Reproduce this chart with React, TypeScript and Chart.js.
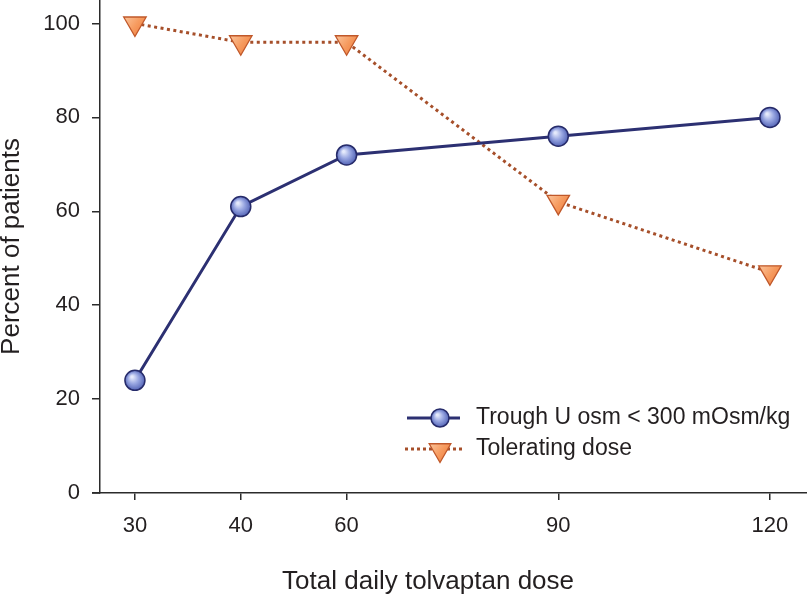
import React, { useEffect, useRef } from "react";
import { Chart, registerables } from "chart.js";

Chart.register(...registerables);

// ---- data ----
const doseLabels = ["30", "40", "60", "90", "120"];
// ordinal slot each dose occupies on the (non-proportional) axis
const doseSlots = [0, 1, 2, 4, 6];
const troughValues = [24, 61, 72, 76, 80];
const toleratingValues = [100, 96, 96, 62, 47];
const yTickValues = [0, 20, 40, 60, 80, 100];
const seriesNames = ["Trough U osm < 300 mOsm/kg", "Tolerating dose"];
const xTitle = "Total daily tolvaptan dose";
const yTitle = "Percent of patients";

const FONT = "'Liberation Sans', Arial, Helvetica, sans-serif";
const TEXT = "#231f20";
const AXIS = "#2b2b2b";
const NAVY = "#2c3072";
const BLUE_BORDER = "#262b6a";
const DOT = "#a64f2a";
const ORANGE_BORDER = "#c0582a";

function blueGradient(ctx: CanvasRenderingContext2D, x: number, y: number, r: number) {
  const g = ctx.createRadialGradient(x - r * 0.3, y - r * 0.35, r * 0.1, x, y, r * 1.05);
  g.addColorStop(0, "#e4e9fb");
  g.addColorStop(0.45, "#9aa8e2");
  g.addColorStop(1, "#4f60b4");
  return g;
}
function orangeGradient(ctx: CanvasRenderingContext2D, x: number, y: number, r: number) {
  const g = ctx.createLinearGradient(x - r, y - r * 0.5, x + r, y + r);
  g.addColorStop(0, "#fcc9a2");
  g.addColorStop(0.5, "#f69a5e");
  g.addColorStop(1, "#ec7436");
  return g;
}

function pointPixel(c: any) {
  const chart = c.chart;
  const sx = chart.scales?.x;
  const sy = chart.scales?.y;
  if (!sx || !sy || c.type !== "data" || !c.parsed) return null;
  const x = sx.getPixelForValue(c.parsed.x);
  const y = sy.getPixelForValue(c.parsed.y);
  if (!Number.isFinite(x) || !Number.isFinite(y)) return null;
  return { x, y };
}

const legendPlugin = {
  id: "customLegend",
  afterDraw(chart: any) {
    const { ctx, chartArea } = chart;
    ctx.save();
    // small overhang of x axis to the left of the y axis
    ctx.strokeStyle = AXIS;
    ctx.lineWidth = 1.5;
    ctx.beginPath();
    ctx.moveTo(chartArea.left - 8, chartArea.bottom);
    ctx.lineTo(chartArea.left, chartArea.bottom);
    ctx.stroke();

    // x-axis title (sits slightly left of the plot-area centre in the original)
    ctx.fillStyle = TEXT;
    ctx.font = `26px ${FONT}`;
    ctx.textAlign = "center";
    ctx.textBaseline = "middle";
    ctx.fillText(
      xTitle,
      chartArea.left + (chartArea.right - chartArea.left) * 0.464,
      chartArea.bottom + 89
    );

    const lx = chartArea.right - 400;
    const rows = [chartArea.bottom - 75, chartArea.bottom - 44];
    const mx = lx + 33;
    // row 1
    ctx.strokeStyle = NAVY;
    ctx.lineWidth = 3;
    ctx.setLineDash([]);
    ctx.beginPath();
    ctx.moveTo(lx, rows[0]);
    ctx.lineTo(lx + 53, rows[0]);
    ctx.stroke();
    ctx.beginPath();
    ctx.arc(mx, rows[0], 9, 0, Math.PI * 2);
    ctx.fillStyle = blueGradient(ctx, mx, rows[0], 9);
    ctx.fill();
    ctx.lineWidth = 1.5;
    ctx.strokeStyle = BLUE_BORDER;
    ctx.stroke();
    // row 2
    ctx.strokeStyle = DOT;
    ctx.lineWidth = 3;
    ctx.setLineDash([3, 3]);
    ctx.beginPath();
    ctx.moveTo(lx - 2, rows[1]);
    ctx.lineTo(lx + 55, rows[1]);
    ctx.stroke();
    ctx.setLineDash([]);
    const r = 12.5;
    const ty = rows[1] + 1;
    ctx.beginPath();
    ctx.moveTo(mx - (r * Math.sqrt(3)) / 2, ty - r / 2);
    ctx.lineTo(mx + (r * Math.sqrt(3)) / 2, ty - r / 2);
    ctx.lineTo(mx, ty + r);
    ctx.closePath();
    ctx.fillStyle = orangeGradient(ctx, mx, ty, r);
    ctx.fill();
    ctx.lineWidth = 1.3;
    ctx.strokeStyle = ORANGE_BORDER;
    ctx.stroke();
    // labels
    ctx.fillStyle = TEXT;
    ctx.font = `23px ${FONT}`;
    ctx.textBaseline = "middle";
    ctx.textAlign = "left";
    ctx.fillText(chart.data.datasets[0].label, lx + 69, rows[0]);
    ctx.fillText(chart.data.datasets[1].label, lx + 69, rows[1]);
    ctx.restore();
  },
};

export default function App() {
  const canvasRef = useRef<HTMLCanvasElement | null>(null);

  useEffect(() => {
    if (!canvasRef.current) return;
    const chart = new Chart(canvasRef.current, {
      type: "line",
      data: {
        datasets: [
          {
            label: seriesNames[0],
            data: doseSlots.map((s, i) => ({ x: s, y: troughValues[i] })),
            borderColor: NAVY,
            borderWidth: 3,
            pointStyle: "circle",
            pointRadius: 10,
            pointHoverRadius: 10,
            pointBorderWidth: 1.5,
            pointBorderColor: BLUE_BORDER,
            pointBackgroundColor: (c: any) => {
              const p = pointPixel(c);
              if (!p) return "#7d8fd6";
              return blueGradient(c.chart.ctx, p.x, p.y, 10);
            },
            tension: 0,
            clip: false,
            order: 1,
          },
          {
            label: seriesNames[1],
            data: doseSlots.map((s, i) => ({ x: s, y: toleratingValues[i] })),
            borderColor: DOT,
            borderWidth: 3,
            borderDash: [3, 3.5],
            pointStyle: "triangle",
            rotation: 180,
            pointRadius: 13,
            pointHoverRadius: 13,
            pointBorderWidth: 1.3,
            pointBorderColor: ORANGE_BORDER,
            pointBackgroundColor: (c: any) => {
              const p = pointPixel(c);
              if (!p) return "#f49a5a";
              return orangeGradient(c.chart.ctx, p.x, p.y, 13);
            },
            tension: 0,
            clip: false,
            order: 2,
          },
        ],
      },
      options: {
        animation: false,
        responsive: true,
        maintainAspectRatio: false,
        layout: { padding: 0, autoPadding: false },
        plugins: {
          legend: { display: false },
          tooltip: { enabled: false },
        },
        scales: {
          x: {
            type: "linear",
            min: -0.33,
            max: 6.35,
            afterBuildTicks: (scale: any) => {
              scale.ticks = doseSlots.map((v) => ({ value: v }));
            },
            afterFit: (scale: any) => {
              scale.height = 104;
              scale.paddingLeft = 0;
              scale.paddingRight = 0;
            },
            ticks: {
              autoSkip: false,
              maxRotation: 0,
              padding: 13,
              color: TEXT,
              font: { family: FONT, size: 22 },
              callback: (value: any) => {
                const idx = doseSlots.indexOf(Number(value));
                return idx >= 0 ? doseLabels[idx] : "";
              },
            },
            grid: {
              display: true,
              drawOnChartArea: false,
              drawTicks: true,
              tickLength: 7,
              color: AXIS,
              lineWidth: 1.5,
            },
            border: { display: true, color: AXIS, width: 1.5 },
            title: { display: false, text: xTitle },
          },
          y: {
            type: "linear",
            min: 0,
            max: 105,
            afterBuildTicks: (scale: any) => {
              scale.ticks = yTickValues.map((v) => ({ value: v }));
            },
            afterFit: (scale: any) => {
              scale.width = 100;
              scale.paddingTop = 0;
              scale.paddingBottom = 0;
            },
            ticks: {
              padding: 12,
              color: TEXT,
              font: { family: FONT, size: 22 },
            },
            grid: {
              display: true,
              drawOnChartArea: false,
              drawTicks: true,
              tickLength: 8,
              color: AXIS,
              lineWidth: 1.5,
            },
            border: { display: true, color: AXIS, width: 1.5 },
            title: {
              display: true,
              text: yTitle,
              color: TEXT,
              font: { family: FONT, size: 26, lineHeight: 0.9 },
              padding: { top: 0, bottom: 0 },
            },
          },
        },
      },
      plugins: [legendPlugin],
    });
    return () => chart.destroy();
  }, []);

  return (
    <div style={{ position: "fixed", left: 0, top: 0, width: 807, height: 597, background: "#fff" }}>
      <canvas ref={canvasRef} />
    </div>
  );
}
